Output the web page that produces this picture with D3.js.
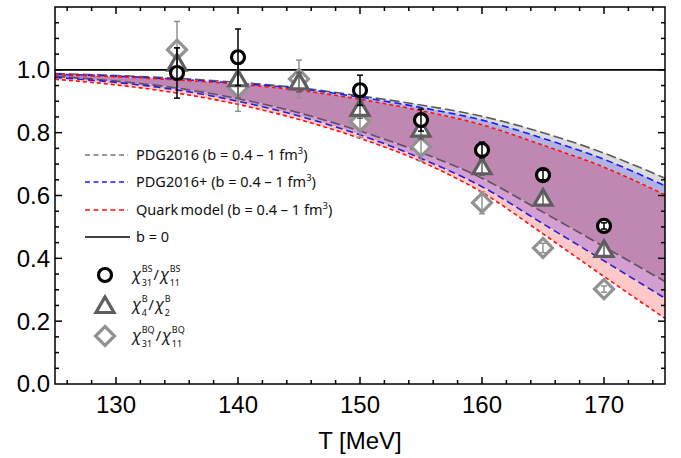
<!DOCTYPE html>
<html>
<head>
<meta charset="utf-8">
<script src="https://d3js.org/d3.v7.min.js"></script>
<style>
  body { margin: 0; background: #fff; }
  svg { display: block; }
</style>
</head>
<body>
<script>
var curveT = [125, 130, 135, 140, 145, 150, 155, 160, 165, 170, 175];

// model curves, upper edge b = 0.4 fm^3, lower edge b = 1 fm^3
var pdgUpper   = [0.988, 0.982, 0.973, 0.960, 0.943, 0.917, 0.888, 0.852, 0.800, 0.735, 0.655];
var pdgLower   = [0.979, 0.964, 0.942, 0.908, 0.863, 0.805, 0.737, 0.655, 0.547, 0.437, 0.326];
var pdgpUpper  = [0.986, 0.980, 0.970, 0.957, 0.940, 0.913, 0.880, 0.840, 0.782, 0.715, 0.631];
var pdgpLower  = [0.976, 0.960, 0.936, 0.900, 0.853, 0.793, 0.718, 0.628, 0.510, 0.392, 0.273];
var quarkUpper = [0.984, 0.978, 0.968, 0.954, 0.935, 0.906, 0.870, 0.825, 0.760, 0.690, 0.602];
var quarkLower = [0.970, 0.952, 0.926, 0.890, 0.842, 0.782, 0.708, 0.610, 0.478, 0.342, 0.209];

// lattice points
var bsT   = [135, 140, 150, 155, 160, 165, 170];
var bsVal = [0.990, 1.040, 0.935, 0.840, 0.745, 0.665, 0.503];
var bsErr = [0.080, 0.090, 0.048, 0.035, 0.025, 0.015, 0.010];

var bT    = [135, 140, 145, 150, 155, 160, 165, 170];
var bVal  = [1.020, 0.970, 0.960, 0.876, 0.810, 0.690, 0.590, 0.427];
var bErr  = [0.050, 0.060, 0.030, 0.030, 0.030, 0.025, 0.020, 0.020];

var bqT   = [135, 140, 145, 150, 155, 160, 165, 170];
var bqVal = [1.064, 0.943, 0.971, 0.835, 0.755, 0.577, 0.433, 0.302];
var bqErr = [0.090, 0.075, 0.060, 0.050, 0.045, 0.035, 0.015, 0.010];

var xTicks = [130, 140, 150, 160, 170];
var yTicks = [0.0, 0.2, 0.4, 0.6, 0.8, 1.0];

var legendLines = ["PDG2016 (b = 0.4 \u2013 1 fm", "PDG2016+ (b = 0.4 \u2013 1 fm",
                   "Quark\u2009model (b = 0.4 \u2013 1 fm", "b = 0"];

var W = 681, H = 458;
var margin = {top: 7, right: 16, bottom: 74, left: 55};
var width = W - margin.left - margin.right,
    height = H - margin.top - margin.bottom;

var svg = d3.select("body").append("svg")
    .attr("width", W)
    .attr("height", H);

var x = d3.scaleLinear().domain([125, 175]).range([margin.left, margin.left + width]);
var y = d3.scaleLinear().domain([0, 1.2]).range([margin.top + height, margin.top]);

svg.append("clipPath").attr("id", "plot")
    .append("rect")
    .attr("x", margin.left).attr("y", margin.top)
    .attr("width", width).attr("height", height);

var plot = svg.append("g").attr("clip-path", "url(#plot)");

function rows(a, b) {
    return curveT.map(function(t, i) { return {t: t, hi: a[i], lo: b[i]}; });
}

var area = d3.area()
    .x(function(d) { return x(d.t); })
    .y0(function(d) { return y(d.lo); })
    .y1(function(d) { return y(d.hi); })
    .curve(d3.curveMonotoneX);

// the bands overlap, so fill the strips between neighbouring edges
var strips = [
    [pdgUpper, pdgpUpper, "#dcdcdc"],
    [pdgpUpper, quarkUpper, "#b2b2e2"],
    [quarkUpper, pdgLower, "#bf88b2"],
    [pdgLower, pdgpLower, "#d29fd0"],
    [pdgpLower, quarkLower, "#ffc9c9"]
];
strips.forEach(function(s) {
    plot.append("path")
        .datum(rows(s[0], s[1]))
        .attr("fill", s[2])
        .attr("d", area);
});

var line = d3.line()
    .x(function(d) { return x(d.t); })
    .y(function(d) { return y(d.v); })
    .curve(d3.curveMonotoneX);

function pts(a) {
    return curveT.map(function(t, i) { return {t: t, v: a[i]}; });
}

var curves = [
    [pdgUpper, "#5a5a5a", "10,4", 1],
    [pdgLower, "#4a3a4a", "10,4", 0.8],
    [pdgpUpper, "#1a1aff", "7,4", 1],
    [pdgpLower, "#2a20d0", "7,4", 1],
    [quarkUpper, "#ff1010", "4,3", 1],
    [quarkLower, "#ff1010", "4,3", 1]
];
curves.forEach(function(c) {
    plot.append("path")
        .datum(pts(c[0]))
        .attr("fill", "none")
        .attr("stroke", c[1])
        .attr("stroke-width", 1.6)
        .attr("stroke-dasharray", c[2])
        .attr("opacity", c[3])
        .attr("d", line);
});

// b = 0
plot.append("line")
    .attr("x1", x(125)).attr("x2", x(175))
    .attr("y1", y(1)).attr("y2", y(1))
    .attr("stroke", "#000").attr("stroke-width", 1.6);

// markers
var circle = function(g, col) {
    g.append("circle").attr("r", 6.5).attr("fill", "#fff")
        .attr("stroke", col).attr("stroke-width", 3.2);
};
var triangle = function(g, col) {
    g.append("path").attr("d", "M0,-9L9,6.5L-9,6.5Z").attr("fill", "#fff")
        .attr("stroke", col).attr("stroke-width", 3.2).attr("stroke-linejoin", "miter");
};
var diamond = function(g, col) {
    g.append("path").attr("d", "M0,-9.5L9.5,0L0,9.5L-9.5,0Z").attr("fill", "#fff")
        .attr("stroke", col).attr("stroke-width", 3.2).attr("stroke-linejoin", "miter");
};

function drawSet(ts, vals, errs, col, shape) {
    var g = plot.append("g");
    ts.forEach(function(t, i) {
        var cx = x(t);
        var m = g.append("g").attr("transform", "translate(" + cx + "," + y(vals[i]) + ")");
        shape(m, col);
        g.append("line")
            .attr("x1", cx).attr("x2", cx)
            .attr("y1", y(vals[i] + errs[i])).attr("y2", y(vals[i] - errs[i]))
            .attr("stroke", col).attr("stroke-width", 1.5);
        [vals[i] + errs[i], vals[i] - errs[i]].forEach(function(v) {
            g.append("line")
                .attr("x1", cx - 3).attr("x2", cx + 3)
                .attr("y1", y(v)).attr("y2", y(v))
                .attr("stroke", col).attr("stroke-width", 1.5);
        });
    });
}

drawSet(bqT, bqVal, bqErr, "#929292", diamond);
drawSet(bT, bVal, bErr, "#5e5e5e", triangle);
drawSet(bsT, bsVal, bsErr, "#000", circle);

// frame and ticks
var frame = svg.append("g").attr("stroke", "#000").attr("stroke-width", 1.5);
frame.append("rect")
    .attr("x", margin.left).attr("y", margin.top)
    .attr("width", width).attr("height", height)
    .attr("fill", "none");

d3.range(126, 175, 2).forEach(function(t) {
    var len = t % 10 === 0 ? 7 : 4;
    frame.append("line").attr("x1", x(t)).attr("x2", x(t))
        .attr("y1", y(0)).attr("y2", y(0) - len);
    frame.append("line").attr("x1", x(t)).attr("x2", x(t))
        .attr("y1", y(1.2)).attr("y2", y(1.2) + len);
});
d3.range(0.05, 1.2, 0.05).forEach(function(v) {
    var major = Math.abs(v * 5 - Math.round(v * 5)) < 1e-6;
    var len = major ? 7 : 4;
    frame.append("line").attr("x1", x(125)).attr("x2", x(125) + len)
        .attr("y1", y(v)).attr("y2", y(v));
    frame.append("line").attr("x1", x(175)).attr("x2", x(175) - len)
        .attr("y1", y(v)).attr("y2", y(v));
});

var labelFont = "'Liberation Sans', Arial, sans-serif";
svg.append("g").selectAll("text").data(xTicks).enter().append("text")
    .attr("x", function(d) { return x(d); })
    .attr("y", 413)
    .attr("text-anchor", "middle")
    .attr("font-family", labelFont)
    .attr("font-size", 24)
    .text(function(d) { return d; });

svg.append("g").selectAll("text").data(yTicks).enter().append("text")
    .attr("x", 50)
    .attr("y", function(d) { return y(d); })
    .attr("dy", "0.35em")
    .attr("text-anchor", "end")
    .attr("font-family", labelFont)
    .attr("font-size", 24)
    .text(function(d) { return d.toFixed(1); });

svg.append("text")
    .attr("x", x(150))
    .attr("y", 449)
    .attr("text-anchor", "middle")
    .attr("font-family", labelFont)
    .attr("font-size", 24)
    .text("T [MeV]");

// legend
var legFont = "'Noto Sans', sans-serif";
var leg = svg.append("g").attr("font-family", legFont).attr("font-size", 14.5).attr("fill", "#111");
var legY = [155, 182, 210, 237];
var legStyle = [["#777", "5,3.5"], ["#1a1aff", "5,3.5"], ["#ff1010", "5,3.5"], ["#000", null]];
legendLines.forEach(function(txt, i) {
    leg.append("line")
        .attr("x1", 85).attr("x2", i === 3 ? 130 : 128)
        .attr("y1", legY[i]).attr("y2", legY[i])
        .attr("stroke", legStyle[i][0]).attr("stroke-width", 1.6)
        .attr("stroke-dasharray", legStyle[i][1]);
    var t = leg.append("text").attr("x", 136).attr("y", legY[i] + 5);
    t.append("tspan").text(txt);
    if (i < 3) {
        t.append("tspan").attr("font-size", 9.5).attr("dy", -6).text("3");
        t.append("tspan").attr("dy", 6).text(")");
    }
});

// chi symbols with stacked super/subscripts
function chiLabel(y0, parts) {
    var cx = 132;
    parts.forEach(function(p, k) {
        if (k > 0) {
            var s = leg.append("text").attr("x", cx).attr("y", y0 + 5).text("/");
            cx += s.node().getComputedTextLength() + 1;
        }
        var c = leg.append("text").attr("x", cx).attr("y", y0 + 5)
            .attr("font-style", "italic").attr("font-size", 16).text("\u03c7");
        cx += c.node().getComputedTextLength() + 0.5;
        var sup = leg.append("text").attr("x", cx).attr("y", y0 - 3)
            .attr("font-size", 9).text(p[0]);
        var sub = leg.append("text").attr("x", cx).attr("y", y0 + 10.5)
            .attr("font-size", 9).text(p[1]);
        cx += Math.max(sup.node().getComputedTextLength(), sub.node().getComputedTextLength()) + 1;
    });
}

var lm1 = leg.append("g").attr("transform", "translate(105,275)");
circle(lm1, "#000");
chiLabel(275, [["BS", "31"], ["BS", "11"]]);
var lm2 = leg.append("g").attr("transform", "translate(105,306)");
triangle(lm2, "#5e5e5e");
chiLabel(305, [["B", "4"], ["B", "2"]]);
var lm3 = leg.append("g").attr("transform", "translate(105,336)");
diamond(lm3, "#929292");
chiLabel(336, [["BQ", "31"], ["BQ", "11"]]);
</script>
</body>
</html>
